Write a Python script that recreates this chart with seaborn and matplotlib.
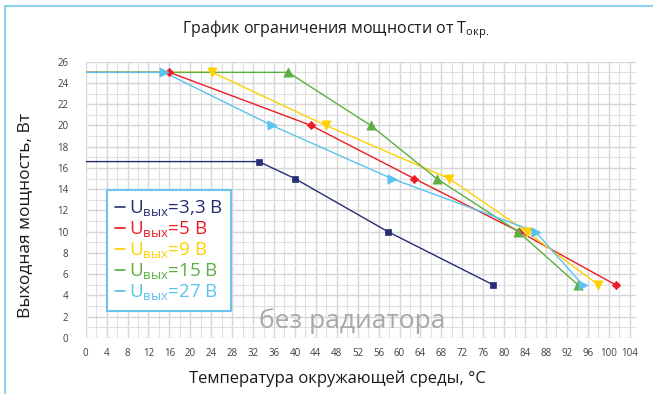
import pandas as pd
import matplotlib.pyplot as plt
import seaborn as sns
from matplotlib.lines import Line2D
from matplotlib.ticker import MultipleLocator

# values (ambient temperature, °C -> output power, W)
t_33 = [0, 33.1, 40.0, 57.8, 77.9]
p_33 = [16.6, 16.6, 15, 10, 5]
t_5 = [0, 16.0, 43.1, 62.8, 82.9, 101.3]
p_5 = [25, 25, 20, 15, 10, 5]
t_9 = [0, 24.2, 45.9, 69.5, 84.3, 98.0]
p_9 = [25, 25, 20, 15, 10, 5]
t_15 = [0, 38.7, 54.5, 67.1, 82.7, 94.1]
p_15 = [25, 25, 20, 15, 10, 5]
t_27 = [0, 15.0, 35.6, 58.5, 86.0, 95.0]
p_27 = [25, 25, 20, 15, 10, 5]
voltages = ["3,3", "5", "9", "15", "27"]

colors = ["#262d72", "#ec1c24", "#ffd000", "#5cb040", "#5bc2ee"]
markers = ["s", "D", "v", "^", ">"]
msizes = [22, 18, 44, 44, 44]

# 1. Build long table
frames = []
for v, t, p in zip(voltages, [t_33, t_5, t_9, t_15, t_27],
                   [p_33, p_5, p_9, p_15, p_27]):
    frames.append(pd.DataFrame({"T": t, "P": p, "U": v, "idx": range(len(t))}))
data = pd.concat(frames, ignore_index=True)

sns.set_style("white")
plt.rcParams["font.family"] = ["Open Sans", "DejaVu Sans"]

fig = plt.figure(figsize=(6.53, 3.94), dpi=100)
ax = fig.add_axes([85.7 / 653, 56 / 394, (636 - 85.7) / 653, (338 - 61.7) / 394])

# 2. Lines and markers (no marker on the first point at 0 °C)
pal = dict(zip(voltages, colors))
sns.lineplot(data=data, x="T", y="P", hue="U", palette=pal, sort=False,
             estimator=None, linewidth=1.0, legend=False, ax=ax, zorder=3)
for v, m, s in zip(voltages, markers, msizes):
    sub = data[(data["U"] == v) & (data["idx"] > 0)]
    sns.scatterplot(data=sub, x="T", y="P", color=pal[v], marker=m, s=s,
                    edgecolor=pal[v], linewidth=0.5, legend=False, ax=ax, zorder=4)

# 3. Axes, grid
ax.set_xlim(0, 105.2)
ax.set_ylim(0, 26)
ax.xaxis.set_major_locator(MultipleLocator(4))
ax.xaxis.set_minor_locator(MultipleLocator(2))
ax.yaxis.set_major_locator(MultipleLocator(2))
ax.yaxis.set_minor_locator(MultipleLocator(1))
ax.grid(which="major", color="#d6d6d6", linewidth=1.0, zorder=0)
ax.grid(which="minor", color="#e0e0e0", linewidth=0.8, zorder=0)
ax.set_axisbelow(True)
sns.despine(ax=ax, left=True, bottom=True, top=True, right=True)
ax.tick_params(axis="y", which="both", length=6.5, width=0.8, color="#d6d6d6",
               labelsize=7, labelcolor="#404040", pad=6)
ax.tick_params(axis="x", which="both", length=5, width=0.8, color="#d6d6d6",
               labelsize=7, labelcolor="#404040", pad=2)
ax.set_xlabel("")
ax.set_ylabel("")

ax.text(50.9, 0.94, "без радиатора", color="#a8a8a8", fontsize=19,
        ha="center", va="baseline", zorder=2)

# 4. Texts
fig.text(336 / 653, 1 - 30 / 394,
         r"График ограничения мощности от $\mathregular{T_{окр.}}$",
         ha="center", va="center", fontsize=11.5, color="#1a1a1a")
fig.text(337 / 653, 1 - 379 / 394, "Температура окружающей среды, °C",
         ha="center", va="center", fontsize=12, color="#1a1a1a")
fig.text(25 / 653, 1 - 215 / 394, "Выходная мощность, Вт", rotation=90,
         ha="center", va="center", fontsize=12.5, color="#1a1a1a")

# 5. Legend
handles = [Line2D([0], [0], color=c, lw=1.2) for c in colors]
labels = [r"$\mathregular{U_{вых}}$=" + v + " В" for v in voltages]
leg = fig.legend(handles, labels, loc="upper left",
                 bbox_to_anchor=(107 / 653, 1 - 190 / 394), borderaxespad=0,
                 fontsize=13.5, handlelength=0.5, handletextpad=0.2,
                 labelspacing=0.05, borderpad=0.45, fancybox=False,
                 framealpha=1, edgecolor="#6cc4ec", labelcolor="linecolor")
leg.get_frame().set_linewidth(1.5)

# 6. Outer chart border (left and top)
fig.add_artist(Line2D([5 / 653, 5 / 653], [0, 1 - 6 / 394], color="#8fd0ef", lw=1.5))
fig.add_artist(Line2D([5 / 653, 1], [1 - 6 / 394, 1 - 6 / 394], color="#8fd0ef", lw=1.5))

fig.savefig("out.png", dpi=100)
